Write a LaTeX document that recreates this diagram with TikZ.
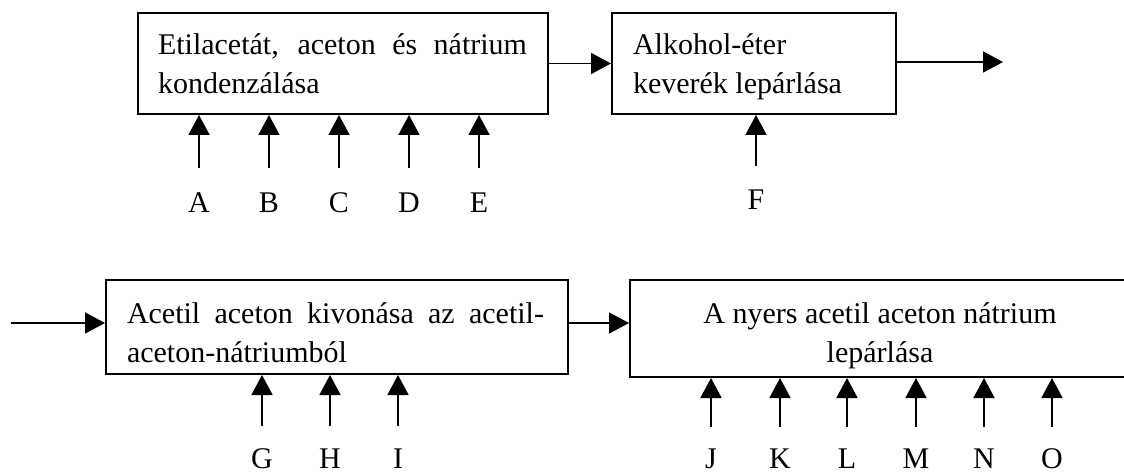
\documentclass[tikz,border=0pt]{standalone}
\usepackage{fontspec}
\setmainfont{Liberation Serif}
\usetikzlibrary{arrows.meta}
\begin{document}
\begin{tikzpicture}[x=1pt,y=-1pt,
  txt/.style={font=\fontsize{30}{39}\selectfont},
  box/.style={draw, line width=2pt, inner sep=0pt, anchor=north west, txt},
  arr/.style={line width=1.8pt, -{Triangle[length=20pt,width=21pt]}},
  lbl/.style={txt, inner sep=0pt, anchor=base}]
\useasboundingbox (0,0) rectangle (1124,473);
\fill[white] (0,0) rectangle (1124,473);
% boxes
\node[box] (b1) at (137,12) {\parbox[c][101pt][t]{410pt}{\rule{0pt}{42pt}\hspace*{20pt}\makebox[369pt][s]{Etilacetát, aceton és nátrium}\\\hspace*{20pt}kondenzálása}};
\node[box] (b2) at (611,12) {\parbox[c][101pt][t]{284pt}{\rule{0pt}{42pt}\hspace*{21pt}Alkohol-éter\\\hspace*{21pt}keverék lepárlása}};
\node[box] (b3) at (105,279) {\parbox[c][94pt][t]{462pt}{\rule{0pt}{43pt}\hspace*{21pt}\makebox[417pt][s]{Acetil aceton kivonása az acetil-}\\\hspace*{21pt}aceton-nátriumból}};
\node[box] (b4) at (629,279) {\parbox[c][97pt][t]{500pt}{\centering\rule{0pt}{43pt}A nyers acetil aceton nátrium\\lepárlása}};
% flow arrows
\coordinate (in) at (11,323);
\coordinate (out) at (1003,62);
\draw[arr] (b1) -- (b2);
\draw[arr] (b2.east |- out) -- (out);
\draw[arr] (in) -- (in -| b3.west);
\draw[arr] (b3.east |- in) -- (b4.west |- in);
% inputs
\foreach \n/\x in {A/199,B/269,C/339,D/409,E/479}{
  \node[lbl] (\n) at (\x,212) {\n};
  \coordinate (t\n) at (\x,168);
  \draw[arr] (t\n) -- (t\n |- b1.south);
}
\node[lbl] (F) at (756,210) {F};
\coordinate (tF) at (756,166);
\draw[arr] (tF) -- (tF |- b2.south);
\foreach \n/\x in {G/262,H/330,I/398}{
  \node[lbl] (\n) at (\x,468) {\n};
  \coordinate (t\n) at (\x,426);
  \draw[arr] (t\n) -- (t\n |- b3.south);
}
\foreach \n/\x in {J/711,K/780,L/847,M/916,N/984,O/1052}{
  \node[lbl] (\n) at (\x,468) {\n};
  \coordinate (t\n) at (\x,427);
  \draw[arr] (t\n) -- (t\n |- b4.south);
}
\end{tikzpicture}
\end{document}
